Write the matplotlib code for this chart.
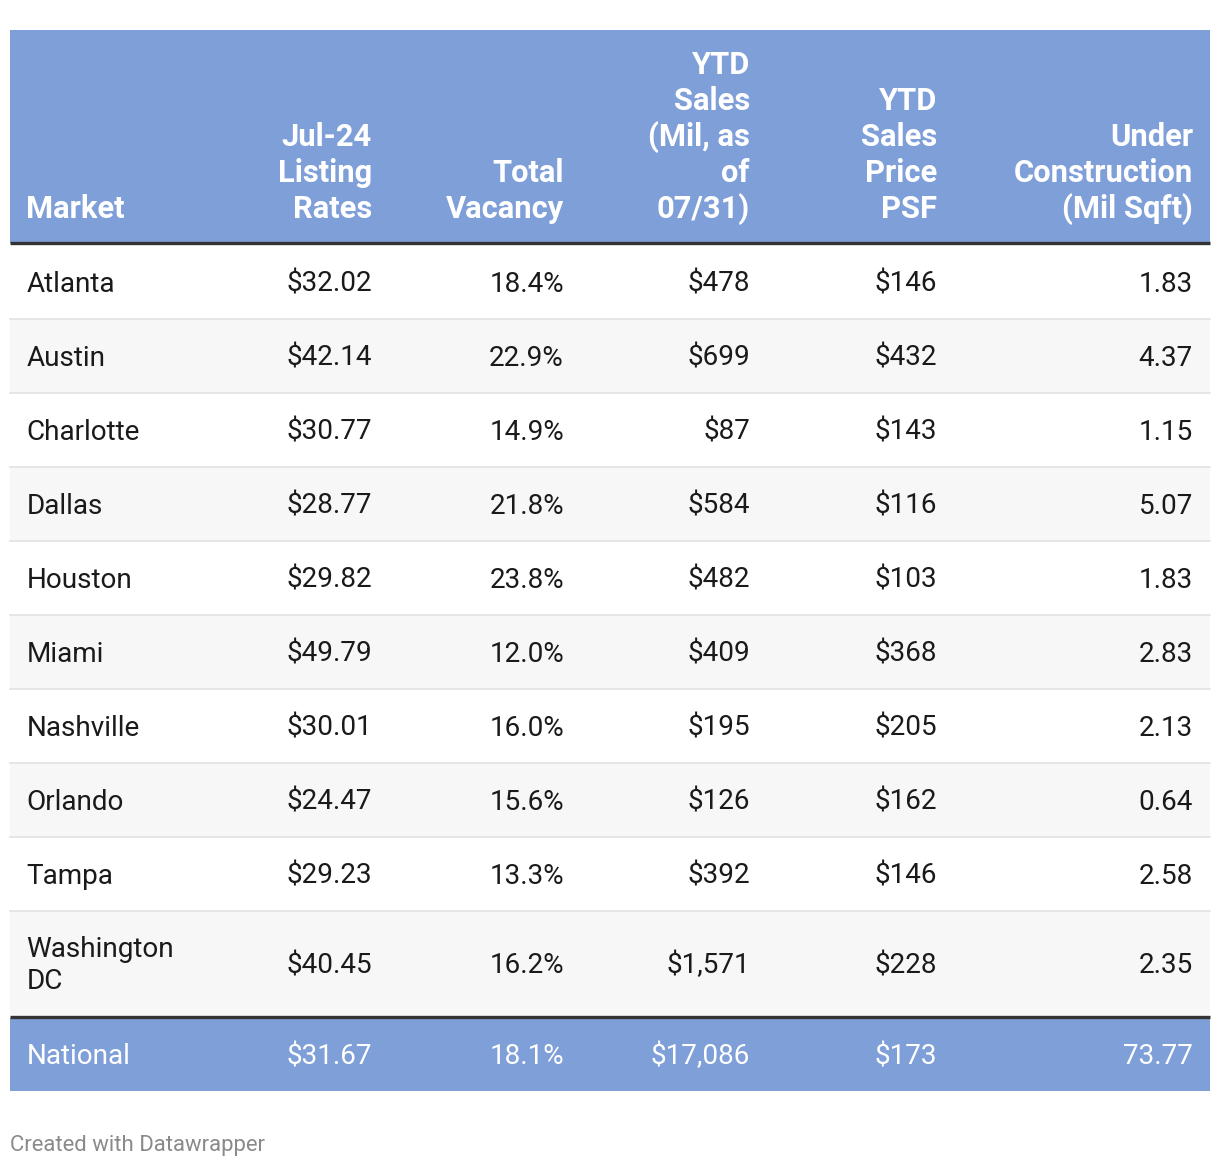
import matplotlib.pyplot as plt
from matplotlib.patches import Rectangle

plt.rcParams['font.family'] = ['Roboto', 'DejaVu Sans']

# data
headers = ['Market', 'Jul-24\nListing\nRates', 'Total\nVacancy',
           'YTD\nSales\n(Mil, as\nof\n07/31)', 'YTD\nSales\nPrice\nPSF',
           'Under\nConstruction\n(Mil Sqft)']
markets = ['Atlanta', 'Austin', 'Charlotte', 'Dallas', 'Houston', 'Miami',
           'Nashville', 'Orlando', 'Tampa', 'Washington\nDC']
listing_rates = ['$32.02', '$42.14', '$30.77', '$28.77', '$29.82', '$49.79',
                 '$30.01', '$24.47', '$29.23', '$40.45']
vacancy = ['18.4%', '22.9%', '14.9%', '21.8%', '23.8%', '12.0%', '16.0%',
           '15.6%', '13.3%', '16.2%']
ytd_sales = ['$478', '$699', '$87', '$584', '$482', '$409', '$195', '$126',
             '$392', '$1,571']
price_psf = ['$146', '$432', '$143', '$116', '$103', '$368', '$205', '$162',
             '$146', '$228']
under_construction = ['1.83', '4.37', '1.15', '5.07', '1.83', '2.83', '2.13',
                      '0.64', '2.58', '2.35']
national = ['National', '$31.67', '18.1%', '$17,086', '$173', '73.77']

# layout (pixels)
W, H = 1220, 1168
left, right = 10, 1210
col_x = [26.5, 372, 564, 750, 937, 1193]
col_ha = ['left', 'right', 'right', 'right', 'right', 'right']
header_top, header_bot = 30, 243
row_h = 74
tall_h = 105
head_color = '#7f9fd9'
stripe = '#f7f7f7'
body_fs = 20.1
head_fs = 22.2
line_px = 32
head_line_px = 36

fig = plt.figure(figsize=(W / 100, H / 100), dpi=100)
ax = fig.add_axes([0, 0, 1, 1])
ax.set_xlim(0, W)
ax.set_ylim(H, 0)
ax.axis('off')

# header
ax.add_patch(Rectangle((left, header_top), right - left, header_bot - header_top,
                       color=head_color, lw=0))
for j, h in enumerate(headers):
    lines = h.split('\n')
    n = len(lines)
    for i, ln in enumerate(lines):
        ax.text(col_x[j], 218 - (n - 1 - i) * head_line_px, ln, ha=col_ha[j],
                va='baseline', fontsize=head_fs, fontweight='bold', color='white')
ax.plot([left, right], [header_bot, header_bot], color='#333333', lw=2.4,
        solid_capstyle='butt')

# body rows
cols = [markets, listing_rates, vacancy, ytd_sales, price_psf, under_construction]
y = header_bot + 1.5
for r in range(len(markets)):
    nlines = markets[r].count('\n') + 1
    h = row_h if nlines == 1 else tall_h
    if r % 2 == 1:
        ax.add_patch(Rectangle((left, y), right - left, h, color=stripe, lw=0))
    cy = y + h / 2
    for j, col in enumerate(cols):
        lines = col[r].split('\n')
        n = len(lines)
        for i, ln in enumerate(lines):
            base = cy + 10 + (i - (n - 1) / 2) * line_px
            ax.text(col_x[j], base, ln, ha=col_ha[j], va='baseline',
                    fontsize=body_fs, color='#1a1a1a')
    y += h
    if r < len(markets) - 1:
        ax.plot([left, right], [y, y], color='#e2e2e2', lw=1.2)

# national row
ax.plot([left, right], [y + 1, y + 1], color='#333333', lw=2.4, solid_capstyle='butt')
ny = y + 2.5
ax.add_patch(Rectangle((left, ny), right - left, 73, color=head_color, lw=0))
for j, v in enumerate(national):
    ax.text(col_x[j], ny + 36.5 + 10, v, ha=col_ha[j], va='baseline',
            fontsize=body_fs, color='white')

ax.text(10, 1151, 'Created with Datawrapper', ha='left', va='baseline',
        fontsize=15.9, color='#8a8a8a')

fig.savefig('out.png', dpi=100)
